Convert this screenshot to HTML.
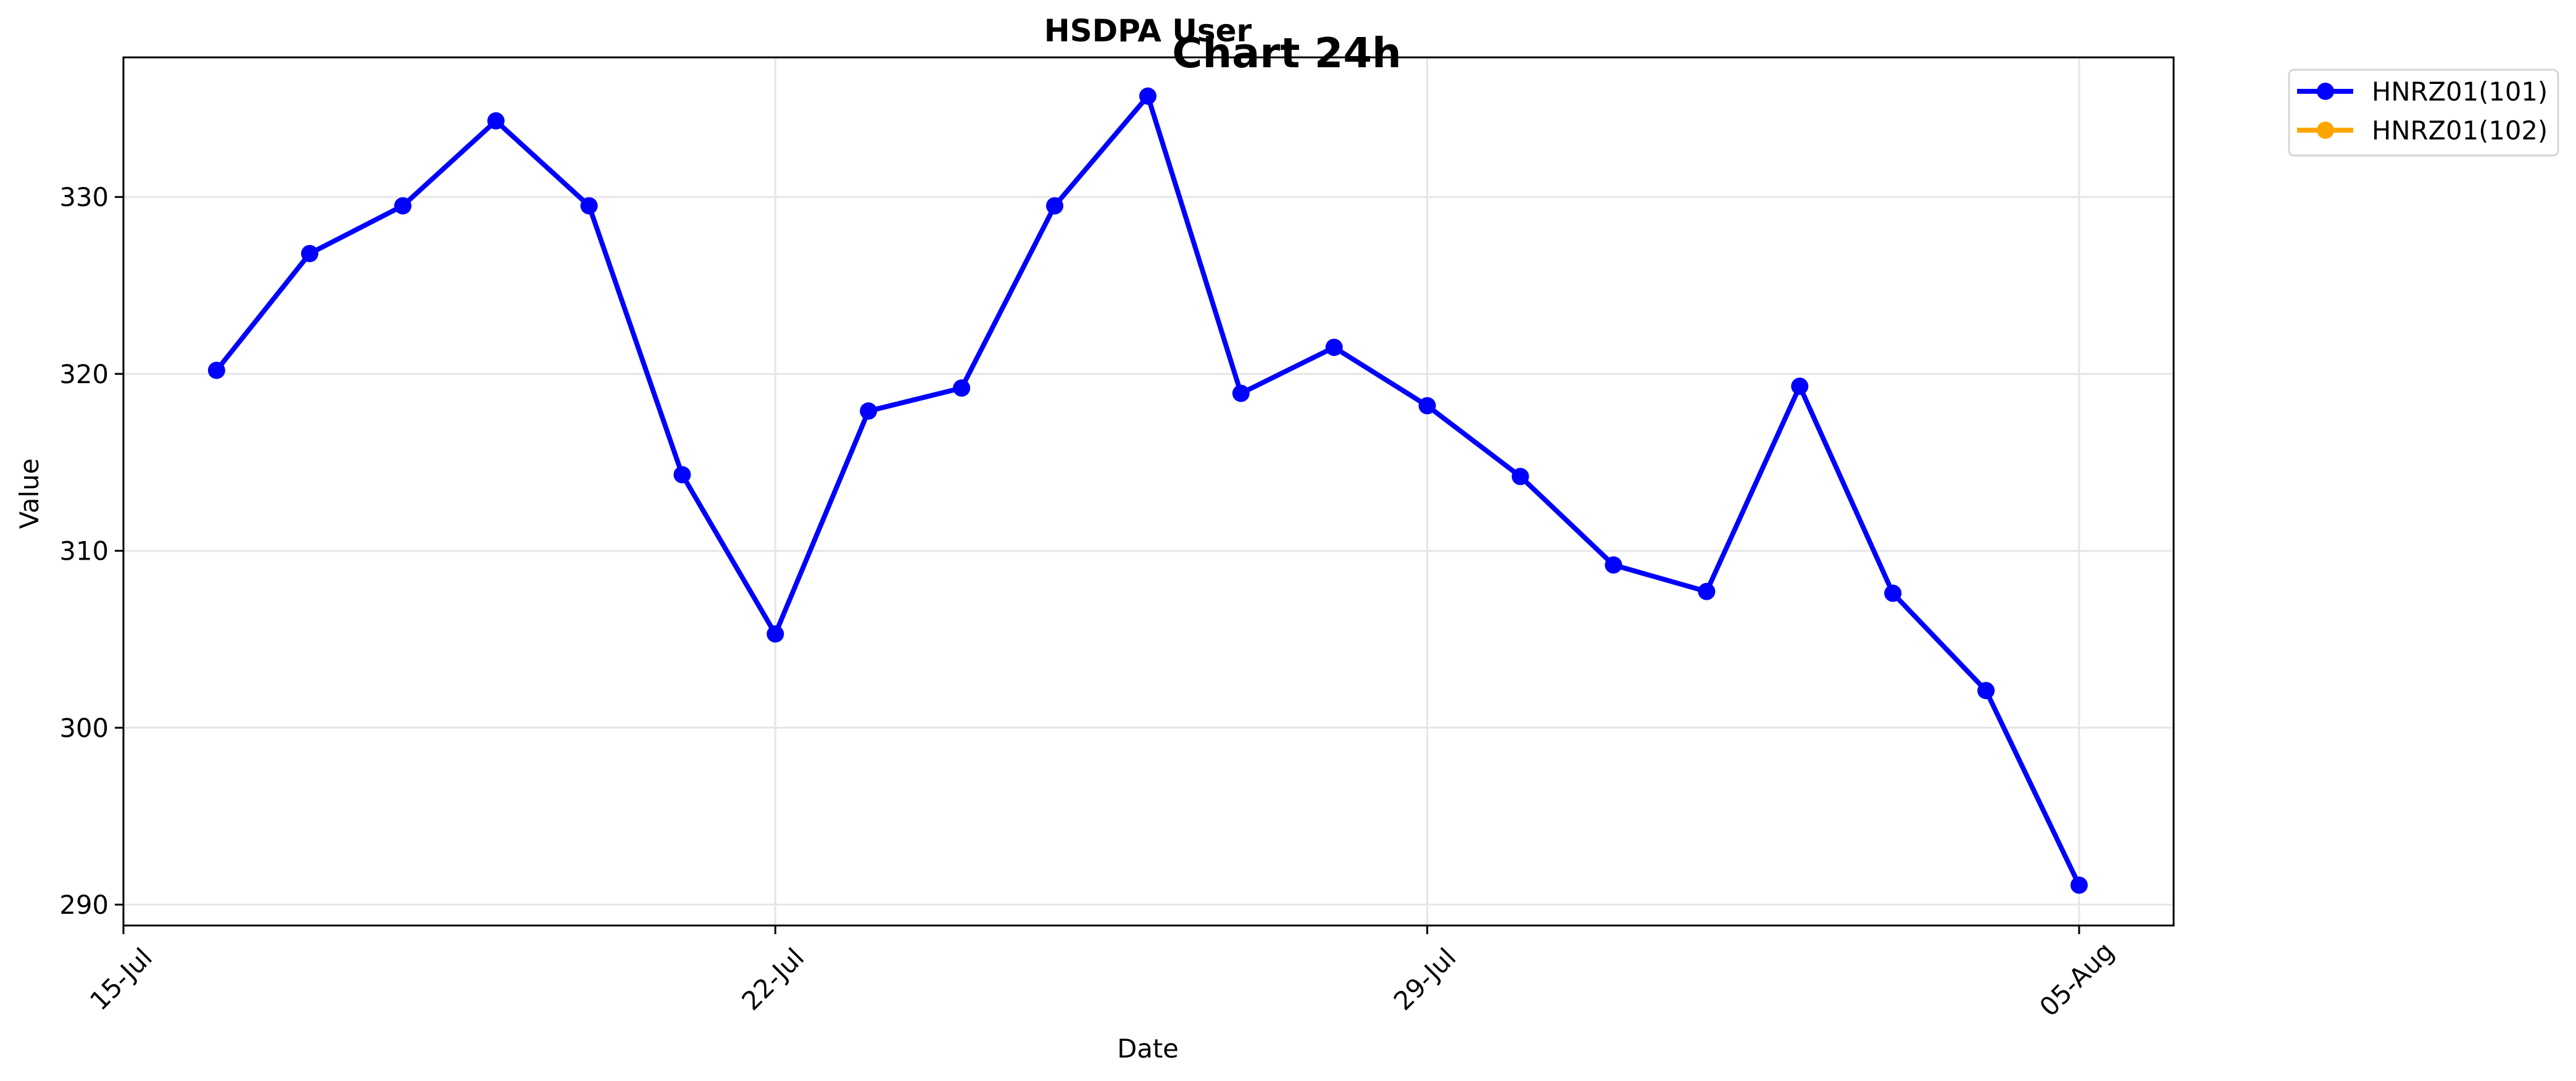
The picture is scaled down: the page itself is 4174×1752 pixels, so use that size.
<!DOCTYPE html>
<html><head><meta charset="utf-8"><style>
html,body{margin:0;padding:0;background:#fff;}
svg{display:block;font-family:"DejaVu Sans","Liberation Sans",sans-serif;}
</style></head><body>
<svg id="chart" width="4174" height="1752" viewBox="0 0 4174 1752" xmlns="http://www.w3.org/2000/svg">
<rect width="4174" height="1752" fill="#fff"/>
<g id="grid"></g>
<g id="axes"></g>
<g id="series"></g>
<text x="1860" y="67" font-size="50" font-weight="bold" text-anchor="middle">HSDPA User</text>
<text x="2085" y="109" font-size="67" font-weight="bold" text-anchor="middle">Chart 24h</text>
<text x="1860" y="1714" font-size="41.7" text-anchor="middle">Date</text>
<text transform="translate(62,800) rotate(-90)" font-size="41.7" text-anchor="middle">Value</text>
<g>
<rect x="3709" y="113" width="436" height="139" rx="8" fill="#fff" stroke="#d5d5d5" stroke-width="3"/>
<g>
<line x1="3722" y1="148" x2="3813" y2="148" stroke="#0000ff" stroke-width="8"/>
<circle cx="3768" cy="148" r="14" fill="#0000ff"/>
<text x="3843" y="163" font-size="41.7">HNRZ01(101)</text>
</g>
<g>
<line x1="3722" y1="211" x2="3813" y2="211" stroke="#ffa500" stroke-width="8"/>
<circle cx="3768" cy="211" r="14" fill="#ffa500"/>
<text x="3843" y="226" font-size="41.7">HNRZ01(102)</text>
</g>
</g>
</svg>
<script>
const dayOffsets = [1,2,3,4,5,6,7,8,9,10,11,12,13,14,15,16,17,18,19,20,21];
const seriesValues = [320.2,326.8,329.5,334.3,329.5,314.3,305.3,317.9,319.2,329.5,335.7,318.9,321.5,318.2,314.2,309.2,307.7,319.3,307.6,302.1,291.1];
const yTicks = [290,300,310,320,330];
const xTickDays = [0,7,14,21];
const xTickLabels = ["15-Jul","22-Jul","29-Jul","05-Aug"];

const L=200,R=3522,T=93,B=1500;
const X0=-1.0, X1=(3522-200)/150.9-1.0; // days from 15-Jul (shifted so 0 -> x=200)
function xs(d){return L+(d)*150.9;}
const yMin=288.82, yMax=337.89;
function ys(v){return B-(v-yMin)/(yMax-yMin)*(B-T);}
const NS="http://www.w3.org/2000/svg";
function mk(tag,attrs,parent){const e=document.createElementNS(NS,tag);for(const k in attrs)e.setAttribute(k,attrs[k]);parent.appendChild(e);return e;}
const grid=document.getElementById('grid'),axes=document.getElementById('axes'),ser=document.getElementById('series');
yTicks.forEach(v=>{
  const y=ys(v);
  const g=mk('line',{x1:L,x2:R,y1:y,y2:y,stroke:'#e6e6e6','stroke-width':3},grid);
  
  
  const t=mk('line',{x1:L-14,x2:L,y1:y,y2:y,stroke:'#000','stroke-width':3},axes);
  
  
  const lb=mk('text',{x:L-24,y:y+15,'font-size':41.7,'text-anchor':'end'},axes);
  lb.textContent=v;
  
  
});
xTickDays.forEach((d,i)=>{
  const x=xs(d);
  const g=mk('line',{x1:x,x2:x,y1:T,y2:B,stroke:'#e6e6e6','stroke-width':3},grid);
  
  
  const t=mk('line',{x1:x,x2:x,y1:B,y2:B+14,stroke:'#000','stroke-width':3},axes);
  
  
  const lb=mk('text',{transform:`translate(${x-4},${1587}) rotate(-45)`,'font-size':41.7,'text-anchor':'middle','dominant-baseline':'central'},axes);
  lb.textContent=xTickLabels[i];
  
  
});
const frame=mk('rect',{x:L,y:T,width:R-L,height:B-T,fill:'none',stroke:'#000','stroke-width':3},axes);


const pts=dayOffsets.map((d,i)=>xs(d)+','+ys(seriesValues[i])).join(' ');
const pl=mk('polyline',{points:pts,fill:'none',stroke:'#0000ff','stroke-width':8,'stroke-linejoin':'round'},ser);


dayOffsets.forEach((d,i)=>{
  const c=mk('circle',{cx:xs(d),cy:ys(seriesValues[i]),r:14,fill:'#0000ff'},ser);
  
  
});
</script>
</body></html>
